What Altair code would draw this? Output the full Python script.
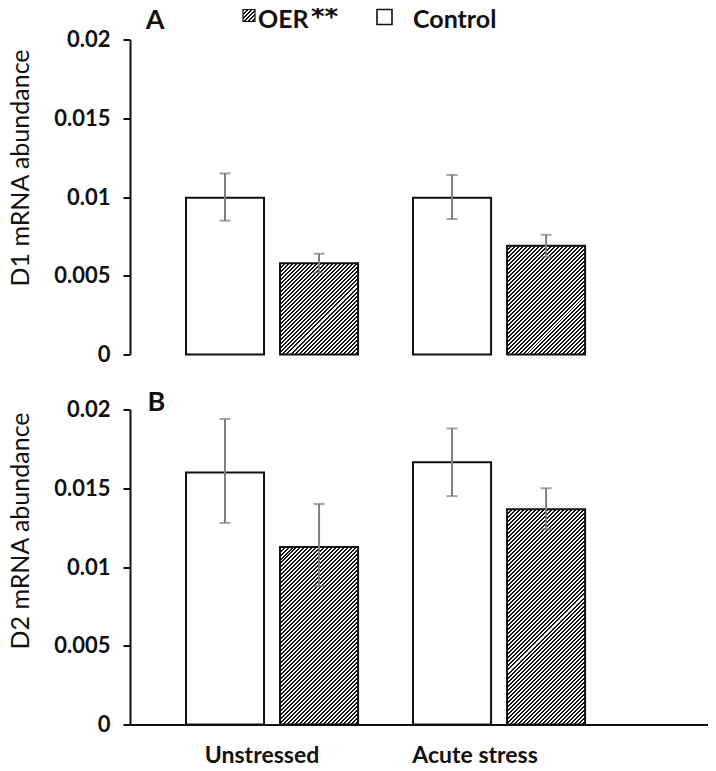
import altair as alt
import pandas as pd

# ---------------- data ----------------
conditions = ["Unstressed", "Acute stress"]
groups = ["Control", "OER**"]

d1_control_mean = [0.00995, 0.00995]
d1_control_lo = [0.0085, 0.0086]
d1_control_hi = [0.0115, 0.0114]
d1_oer_mean = [0.0058, 0.0069]
d1_oer_lo = [0.0052, 0.0062]
d1_oer_hi = [0.0064, 0.0076]

d2_control_mean = [0.0160, 0.01665]
d2_control_lo = [0.0128, 0.0145]
d2_control_hi = [0.0194, 0.0188]
d2_oer_mean = [0.01127, 0.01367]
d2_oer_lo = [0.0088, 0.0124]
d2_oer_hi = [0.0140, 0.0150]

y_ticks = [0, 0.005, 0.01, 0.015, 0.02]
panel_letters = ["A", "B"]
y_titles = ["D1 mRNA abundance", "D2 mRNA abundance"]
legend_main = ["OER", "Control"]
legend_sup = "**"

rows = []
for key, cm, cl, ch, om, ol, oh in [
    ("D1", d1_control_mean, d1_control_lo, d1_control_hi, d1_oer_mean, d1_oer_lo, d1_oer_hi),
    ("D2", d2_control_mean, d2_control_lo, d2_control_hi, d2_oer_mean, d2_oer_lo, d2_oer_hi),
]:
    for i, cond in enumerate(conditions):
        rows.append({"panel": key, "condition": cond, "group": "Control", "mean": cm[i], "lo": cl[i], "hi": ch[i]})
        rows.append({"panel": key, "condition": cond, "group": "OER**", "mean": om[i], "lo": ol[i], "hi": oh[i]})
df = pd.DataFrame(rows)

# ---------------- style / layout ----------------
W, H = 578, 315
YMAX = 0.02
FONT = "Lato"
INK = "#111111"
GREY = "#7f7f7f"

PI, PO, ALIGN = 0.242, 0.394, 0.313
PI2 = 0.17
step = W / (2 - PI + 2 * PO)
band = step * (1 - PI)
bar_w = band / (2 - PI2) * (1 - PI2)


def hatch_gradient(w, h, period=4.0, dark=0.5):
    s = (w + h) / (w * w + h * h)
    n = max(1, int(round((w + h) / period)))
    stops = []
    for k in range(n):
        a = k / n
        b = (k + dark) / n
        c = (k + 1) / n
        stops += [
            {"offset": a, "color": INK},
            {"offset": b, "color": INK},
            {"offset": b, "color": "#ffffff"},
            {"offset": c, "color": "#ffffff"},
        ]
    return {"gradient": "linear", "x1": 0, "y1": 0, "x2": s * w, "y2": s * h, "stops": stops}


xscale = alt.Scale(domain=conditions, paddingInner=PI, paddingOuter=PO, align=ALIGN)
xoscale = alt.Scale(domain=groups, paddingInner=PI2, paddingOuter=0)
yscale = alt.Scale(domain=[0, YMAX], nice=False, zero=True)

xaxis = alt.Axis(
    title=None, ticks=False, domain=True, domainColor=INK, domainWidth=2,
    labelFont=FONT, labelFontSize=23, labelFontWeight="bold", labelColor=INK,
    labelPadding=20, labelAngle=0,
    labelOffset={"condition": {"test": "datum.value === 'Unstressed'", "value": -10}, "value": -24},
)


def yaxis(title, title_y):
    return alt.Axis(
        title=title, values=y_ticks, format="~g", grid=False,
        domainColor=INK, domainWidth=2, tickColor=INK, tickWidth=2, tickSize=7,
        labelFont=FONT, labelFontSize=22, labelFontWeight="bold", labelColor=INK, labelPadding=13,
        titleFont=FONT, titleFontSize=25, titleFontWeight="normal", titleColor=INK, titlePadding=20,
        titleY=title_y,
    )


def make_panel(key, letter, ytitle, show_x, letter_x, letter_y, title_y, with_legend):
    d = df[df.panel == key]
    base = alt.Chart(d)
    X = alt.X("condition:N", sort=conditions, scale=xscale, axis=xaxis if show_x else None)
    XO = alt.XOffset("group:N", sort=groups, scale=xoscale)
    ax = yaxis(ytitle, title_y)

    def Y(f):
        return alt.Y(f"{f}:Q", scale=yscale, axis=ax, title=ytitle)

    layers = []
    layers.append(
        base.transform_filter(alt.datum.group == "Control")
        .mark_bar(fill="white", stroke=INK, strokeWidth=2)
        .encode(x=X, xOffset=XO, y=Y("mean"))
    )
    for cond in conditions:
        v = float(d[(d.group == "OER**") & (d.condition == cond)]["mean"].iloc[0])
        h = v / YMAX * H
        layers.append(
            base.transform_filter((alt.datum.group == "OER**") & (alt.datum.condition == cond))
            .mark_bar(fill=hatch_gradient(bar_w, h), stroke=INK, strokeWidth=2)
            .encode(x=X, xOffset=XO, y=Y("mean"))
        )
    layers.append(
        base.mark_rule(color=GREY, strokeWidth=2).encode(x=X, xOffset=XO, y=Y("lo"), y2="hi:Q")
    )
    for f in ["lo", "hi"]:
        layers.append(
            base.mark_tick(color=GREY, thickness=2, size=11).encode(x=X, xOffset=XO, y=Y(f))
        )
    layers.append(
        alt.Chart(alt.Data(values=[{"t": letter}]))
        .mark_text(font=FONT, fontSize=27, fontWeight="bold", color=INK, align="center", baseline="alphabetic")
        .encode(text="t:N", x=alt.value(letter_x), y=alt.value(letter_y))
    )
    if with_legend:
        layers.append(
            alt.Chart(alt.Data(values=[{"t": legend_main[0]}]))
            .mark_rect(fill=hatch_gradient(12, 12, period=4.2), stroke=INK, strokeWidth=1.2)
            .encode(x=alt.value(113), x2=alt.value(125), y=alt.value(-30), y2=alt.value(-18))
        )
        layers.append(
            alt.Chart(alt.Data(values=[{"t": legend_main[1]}]))
            .mark_rect(fill="white", stroke=INK, strokeWidth=1.6)
            .encode(x=alt.value(247), x2=alt.value(262), y=alt.value(-30), y2=alt.value(-15))
        )
        layers.append(
            alt.Chart(alt.Data(values=[{"t": legend_main[0], "x": 128}, {"t": legend_main[1], "x": 283}]))
            .mark_text(font=FONT, fontSize=25, fontWeight="bold", color=INK, align="left", baseline="alphabetic")
            .encode(text="t:N", x=alt.X("x:Q", scale=None), y=alt.value(-12))
        )
        layers.append(
            alt.Chart(alt.Data(values=[{"t": legend_sup}]))
            .mark_text(font="DejaVu Sans", fontSize=26, fontWeight="bold", color=INK, align="left", baseline="alphabetic")
            .encode(text="t:N", x=alt.value(181), y=alt.value(-14))
        )
    return alt.layer(*layers).properties(width=W, height=H)


pA = make_panel("D1", panel_letters[0], y_titles[0], False, 25, -11, 128, True)
pB = make_panel("D2", panel_letters[1], y_titles[1], True, 26.5, 1, 121, False)

chart = (
    alt.vconcat(pA, pB, spacing=55, bounds="flush")
    .properties(padding={"top": -3.5, "left": 0, "right": 0, "bottom": 0})
    .configure_view(stroke=None)
)

chart.save("out.html", embed_options={"renderer": "svg", "actions": False})
